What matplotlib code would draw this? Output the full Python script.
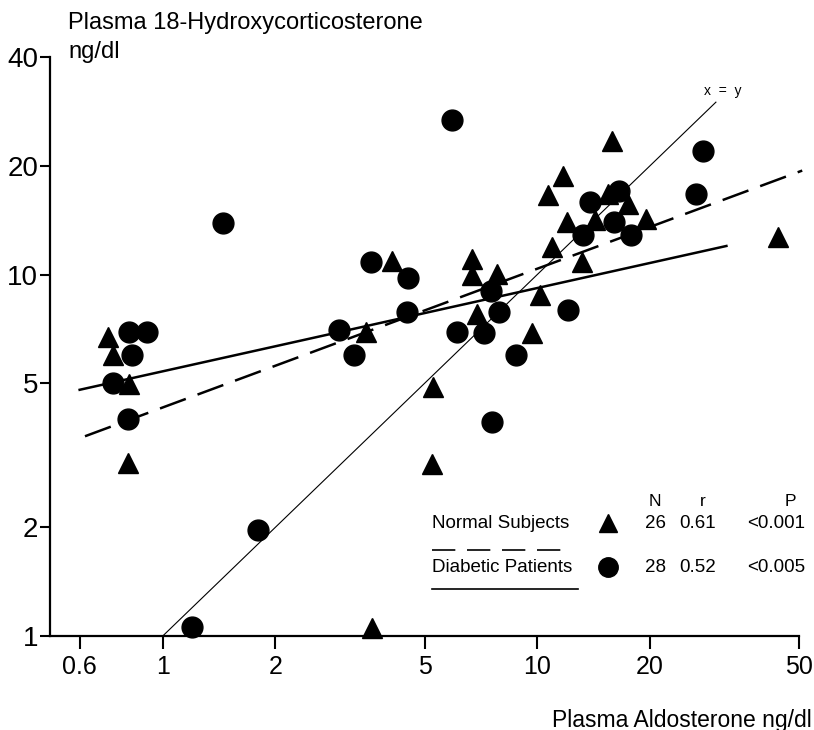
import numpy as np
import matplotlib.pyplot as plt

plt.rcParams['font.family'] = ['Liberation Sans Narrow', 'Liberation Sans', 'DejaVu Sans']

# 数据
# 正常人 (三角)
normal_x = [0.713, 0.736, 0.812, 0.807, 15.85, 11.73, 10.70, 15.46, 17.48, 12.02,
            14.28, 19.53, 43.9, 10.96, 13.18, 4.105, 6.71, 6.71, 7.82, 10.19,
            6.92, 3.48, 9.70, 5.28, 5.25, 3.61]
normal_y = [6.73, 6.00, 4.97, 3.01, 23.4, 18.8, 16.65, 16.76, 15.63, 13.95,
            14.13, 14.21, 12.68, 11.90, 10.82, 10.89, 11.03, 9.97, 10.03, 8.78,
            7.79, 6.95, 6.90, 4.90, 2.99, 1.05]

# 糖尿病患者 (圆)
diab_x = [0.812, 0.906, 0.827, 0.736, 0.807, 5.93, 27.7, 26.5, 16.55, 13.85,
          16.05, 13.27, 17.81, 3.59, 4.53, 7.54, 4.50, 7.92, 12.10, 2.96,
          6.12, 7.22, 3.25, 8.79, 1.445, 7.59, 1.80, 1.195]
diab_y = [6.95, 6.95, 6.00, 5.00, 3.98, 26.8, 22.0, 16.76, 17.08, 15.83,
          13.95, 12.84, 12.84, 10.82, 9.78, 9.01, 7.89, 7.89, 7.99, 7.04,
          6.95, 6.90, 6.00, 6.00, 13.86, 3.90, 1.97, 1.06]

# 回归线端点
normal_fit_x = [0.62, 51]
normal_fit_y = [3.57, 19.4]
diab_fit_x = [0.6, 32]
diab_fit_y = [4.8, 12.0]
identity_xy = [1, 30]

x_ticks = [0.6, 1, 2, 5, 10, 20, 50]
y_ticks = [1, 2, 5, 10, 20, 40]

# 表格
table_rows = [('Normal Subjects', '^', '26', '0.61', '<0.001'),
              ('Diabetic Patients', 'o', '28', '0.52', '<0.005')]

W, H = 814, 730
fig = plt.figure(figsize=(W / 100, H / 100), dpi=100)
ax = fig.add_axes([50 / W, 1 - 636 / H, 749 / W, 579 / H])

def fx(px):
    return px / W

def fy(py):
    return 1 - py / H

ax.plot(normal_x, normal_y, linestyle='none', marker='^', ms=14, color='black', clip_on=False)
ax.plot(diab_x, diab_y, linestyle='none', marker='o', ms=15, color='black', clip_on=False)

ax.plot(identity_xy, identity_xy, color='black', lw=0.8)
ax.plot(diab_fit_x, diab_fit_y, color='black', lw=1.8, clip_on=False)
ax.plot(normal_fit_x, normal_fit_y, color='black', lw=1.8, dashes=(11, 5), clip_on=False)
ax.text(31.2, 32.2, 'x  =  y', fontsize=10, ha='center', va='center')

ax.set_xscale('log')
ax.set_yscale('log')
ax.set_xlim(0.5, 50)
ax.set_ylim(1, 40)
ax.set_xticks(x_ticks)
ax.set_xticklabels([str(t) for t in x_ticks])
ax.set_yticks(y_ticks)
ax.set_yticklabels([str(t) for t in y_ticks])
ax.minorticks_off()
ax.tick_params(axis='x', length=9, width=1.5, direction='out', pad=5, labelsize=18)
ax.tick_params(axis='y', length=7, width=1.5, direction='out', pad=1.5, labelsize=20)
for s in ['top', 'right']:
    ax.spines[s].set_visible(False)
for s in ['left', 'bottom']:
    ax.spines[s].set_linewidth(1.6)

# 坐标轴标题
fig.text(fx(68), fy(23), 'Plasma 18-Hydroxycorticosterone', fontsize=17, ha='left', va='center')
fig.text(fx(68), fy(52), 'ng/dl', fontsize=17, ha='left', va='center')
fig.text(fx(812), fy(720), 'Plasma Aldosterone ng/dl', fontsize=16.5, ha='right', va='center')

# 图例表格
fig.text(fx(655), fy(502), 'N', fontsize=12.5, ha='center', va='center')
fig.text(fx(703), fy(502), 'r', fontsize=12.5, ha='center', va='center')
fig.text(fx(790), fy(502), 'P', fontsize=12.5, ha='center', va='center')
row_y = [523, 567]
for (name, mk, n, r, p), py in zip(table_rows, row_y):
    fig.text(fx(432), fy(py), name, fontsize=13.5, ha='left', va='center')
    fig.add_artist(plt.Line2D([fx(608)], [fy(py)], marker=mk, ms=13 if mk == '^' else 14,
                              color='black', linestyle='none', transform=fig.transFigure))
    fig.text(fx(656), fy(py), n, fontsize=13.5, ha='center', va='center')
    fig.text(fx(698), fy(py), r, fontsize=13.5, ha='center', va='center')
    fig.text(fx(747), fy(py), p, fontsize=13.5, ha='left', va='center')
fig.add_artist(plt.Line2D([fx(432), fx(572)], [fy(550), fy(550)], color='black', lw=1.2,
                          dashes=(14, 7), transform=fig.transFigure))
fig.add_artist(plt.Line2D([fx(432), fx(578)], [fy(589), fy(589)], color='black', lw=1.2,
                          transform=fig.transFigure))

fig.savefig('out.png', dpi=100)
